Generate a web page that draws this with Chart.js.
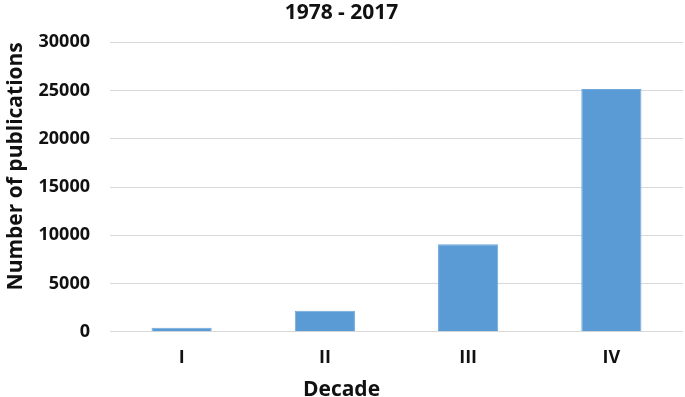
<!DOCTYPE html>
<html>
<head>
<meta charset="utf-8">
<script src="https://cdn.jsdelivr.net/npm/chart.js@4.4.1/dist/chart.umd.min.js"></script>
<style>
    html, body { margin: 0; padding: 0; background: #fff; }
    #wrap { width: 685px; height: 397px; }
</style>
</head>
<body>
<div id="wrap"><canvas id="myChart"></canvas></div>
<script>
var decades = ["I", "II", "III", "IV"];
var publications = [410, 2180, 9080, 25150];
var yTicks = [0, 5000, 10000, 15000, 20000, 25000, 30000];

var font = "'Open Sans', 'DejaVu Sans', sans-serif";
var ctx = document.getElementById("myChart").getContext('2d');

var myChart = new Chart(ctx, {
    type: 'bar',
    data: {
        labels: decades,
        datasets: [{
            label: "Number of publications",
            backgroundColor: "#5b9bd5",
            borderColor: "#6fa8dc",
            borderWidth: 1,
            categoryPercentage: 1.0,
            barPercentage: 0.42,
            data: publications
        }]
    },
    options: {
        responsive: true,
        maintainAspectRatio: false,
        animation: false,
        layout: {
            padding: { top: 0, right: 2, bottom: 0, left: 0 }
        },
        plugins: {
            legend: { display: false },
            tooltip: { enabled: false },
            title: {
                display: true,
                text: "1978 - 2017",
                color: "#111",
                font: { family: font, size: 21, weight: 'bold' },
                padding: { top: 0, bottom: 17 }
            },
            // x axis title, centred on the whole canvas like the original
            subtitle: {
                display: true,
                position: 'bottom',
                text: "Decade",
                color: "#111",
                font: { family: font, size: 21, weight: 'bold' },
                padding: { top: 0, bottom: -6 }
            }
        },
        scales: {
            x: {
                afterFit: function (scale) {
                    scale.height = 46;
                },
                grid: { display: false, drawTicks: false },
                border: { display: false },
                ticks: {
                    color: "#111",
                    padding: 15,
                    font: { family: font, size: 18, weight: 'bold' }
                }
            },
            y: {
                min: 0,
                max: 30000,
                afterBuildTicks: function (scale) {
                    scale.ticks = yTicks.map(function (v) { return { value: v }; });
                },
                afterFit: function (scale) {
                    scale.width = 110;
                },
                grid: { color: "#d9d9d9", lineWidth: 1, drawTicks: false },
                border: { display: false },
                ticks: {
                    color: "#111",
                    padding: 20,
                    font: { family: font, size: 18, weight: 'bold' },
                    callback: function (value) { return String(value); }
                },
                title: {
                    display: true,
                    text: "Number of publications",
                    align: 'end',
                    color: "#111",
                    font: { family: font, size: 21, weight: 'bold' },
                    padding: { top: 3, bottom: 0 }
                }
            }
        }
    }
});
</script>
</body>
</html>
